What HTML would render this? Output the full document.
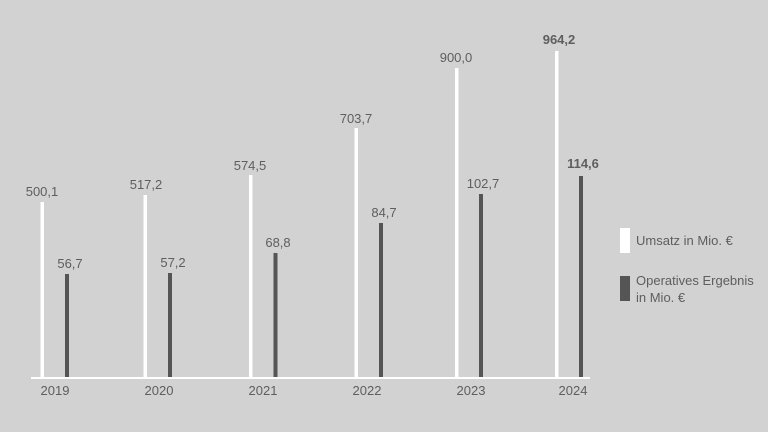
<!DOCTYPE html>
<html><head><meta charset="utf-8"><style>
html,body{margin:0;padding:0;background:#d2d2d2;}
svg{display:block;}
text{font-family:"Liberation Sans",sans-serif;fill:#5e5e5e;font-size:13px;}
</style></head><body>
<svg width="768" height="432" viewBox="0 0 768 432">
<rect width="768" height="432" fill="#d2d2d2"/>
<g fill="#ffffff">
<rect x="40.5" y="202" width="3.5" height="176"/>
<rect x="143.5" y="195" width="3.5" height="183"/>
<rect x="249" y="175" width="3.5" height="203"/>
<rect x="354.5" y="128" width="3.5" height="250"/>
<rect x="455" y="68" width="3.5" height="310"/>
<rect x="555" y="51" width="3.5" height="327"/>
</g>
<g fill="#555555">
<rect x="65" y="274" width="4" height="104"/>
<rect x="168" y="273" width="4" height="105"/>
<rect x="273.5" y="253" width="4" height="125"/>
<rect x="379" y="223" width="4" height="155"/>
<rect x="479" y="194" width="4" height="184"/>
<rect x="579" y="176" width="4" height="202"/>
</g>
<rect x="31" y="377" width="559" height="2" fill="#ffffff"/>
<g text-anchor="middle">
<text x="42" y="196">500,1</text>
<text x="146" y="189">517,2</text>
<text x="250" y="170">574,5</text>
<text x="356" y="123">703,7</text>
<text x="456" y="62">900,0</text>
<text x="559" y="44" font-weight="bold" fill="#444">964,2</text>
<text x="70" y="268">56,7</text>
<text x="173" y="267">57,2</text>
<text x="278" y="247">68,8</text>
<text x="384" y="217">84,7</text>
<text x="483" y="188">102,7</text>
<text x="583" y="168" font-weight="bold" fill="#444">114,6</text>
<text x="55" y="395">2019</text>
<text x="159" y="395">2020</text>
<text x="263" y="395">2021</text>
<text x="367" y="395">2022</text>
<text x="471" y="395">2023</text>
<text x="573" y="395">2024</text>
</g>
<rect x="620" y="228" width="10" height="25" fill="#ffffff"/>
<rect x="620" y="276" width="10" height="25" fill="#555555"/>
<text x="636" y="245">Umsatz in Mio. €</text>
<text x="636" y="285">Operatives Ergebnis</text>
<text x="636" y="302">in Mio. €</text>
</svg>
</body></html>
